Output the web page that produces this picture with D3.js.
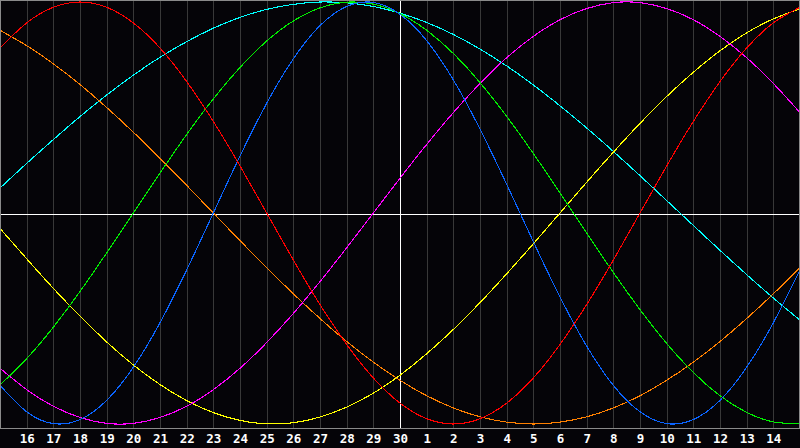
<!DOCTYPE html>
<html>
<head>
<meta charset="utf-8">
<script src="https://cdn.jsdelivr.net/npm/d3@7"></script>
<style>
  html, body { margin: 0; padding: 0; background: #050408; }
  svg { display: block; }
</style>
</head>
<body>
<svg id="chart" width="800" height="448"></svg>
<script>
// Day labels (index 0 = left edge, index 30 = right edge)
const dayLabels = ["15","16","17","18","19","20","21","22","23","24","25","26","27","28","29","30",
  "1","2","3","4","5","6","7","8","9","10","11","12","13","14","15"];
const todayIndex = 15;

// Cycle values per day (-1 .. 1)
const physical = [-0.817,-0.942,-0.998,-0.979,-0.888,-0.731,-0.520,-0.270,0,0.270,0.520,0.731,0.888,0.979,0.998,0.942,
  0.817,0.631,0.398,0.136,-0.136,-0.398,-0.631,-0.817,-0.942,-0.998,-0.979,-0.888,-0.731,-0.520,-0.270];
const emotional = [0.782,0.901,0.975,1,0.975,0.901,0.782,0.623,0.434,0.223,0,-0.223,-0.434,-0.623,-0.782,-0.901,
  -0.975,-1,-0.975,-0.901,-0.782,-0.623,-0.434,-0.223,0,0.223,0.434,0.623,0.782,0.901,0.975];
const intellectual = [-0.815,-0.690,-0.541,-0.372,-0.189,0,0.189,0.372,0.541,0.690,0.815,0.910,0.972,0.999,0.990,0.945,
  0.866,0.756,0.618,0.458,0.282,0.095,-0.095,-0.282,-0.458,-0.618,-0.756,-0.866,-0.945,-0.990,-0.999];
const intuitive = [-0.736,-0.837,-0.916,-0.969,-0.997,-0.997,-0.969,-0.916,-0.837,-0.736,-0.614,-0.476,-0.325,-0.165,0,0.165,
  0.325,0.476,0.614,0.736,0.837,0.916,0.969,0.997,0.997,0.969,0.916,0.837,0.736,0.614,0.476];
const aesthetic = [-0.073,-0.217,-0.357,-0.489,-0.611,-0.720,-0.813,-0.889,-0.946,-0.983,-0.999,-0.994,-0.967,-0.920,-0.854,-0.769,
  -0.667,-0.552,-0.425,-0.288,-0.146,0,0.146,0.288,0.425,0.552,0.667,0.769,0.854,0.920,0.967];
const awareness = [0.866,0.793,0.707,0.609,0.5,0.383,0.259,0.131,0,-0.131,-0.259,-0.383,-0.5,-0.609,-0.707,-0.793,
  -0.866,-0.924,-0.966,-0.991,-1,-0.991,-0.966,-0.924,-0.866,-0.793,-0.707,-0.609,-0.5,-0.383,-0.259];
const spiritual = [0.118,0.235,0.348,0.457,0.559,0.653,0.738,0.812,0.876,0.927,0.965,0.989,1.000,0.996,0.979,0.947,
  0.903,0.846,0.777,0.697,0.607,0.508,0.403,0.292,0.177,0.059,-0.059,-0.177,-0.292,-0.403,-0.508];

const seriesNames = ["spiritual","awareness","aesthetic","intuitive","intellectual","physical","emotional"];
const seriesValues = [spiritual, awareness, aesthetic, intuitive, intellectual, physical, emotional];
const seriesColors = ["#00ffff","#ff8000","#ffff00","#ff00ff","#00ee00","#0a64ff","#ff0000"];

const svg = d3.select("#chart");
const W = 800, plotBottom = 428;

const x = d3.scaleLinear().domain([0, dayLabels.length - 1]).range([0, W]);
const y = d3.scaleLinear().domain([-1, 1]).range([424, 2]);

svg.append("rect").attr("x",0).attr("y",0).attr("width",W).attr("height",448).attr("fill","#050408");

// vertical day grid
const gridIdx = d3.range(1, dayLabels.length - 1);
svg.append("g").selectAll("line").data(gridIdx).join("line")
  .attr("x1", d => Math.round(x(d)) + 0.5).attr("x2", d => Math.round(x(d)) + 0.5)
  .attr("y1", 0).attr("y2", plotBottom)
  .attr("stroke", "#383838").attr("stroke-width", 1)
  .attr("shape-rendering", "crispEdges");

// midline and today line
svg.append("line").attr("x1", 0).attr("x2", W)
  .attr("y1", Math.round(y(0)) + 1.5).attr("y2", Math.round(y(0)) + 1.5)
  .attr("stroke", "#ffffff").attr("stroke-width", 1).attr("shape-rendering","crispEdges");
svg.append("line").attr("x1", x(todayIndex) + 0.5).attr("x2", x(todayIndex) + 0.5)
  .attr("y1", 0).attr("y2", plotBottom)
  .attr("stroke", "#ffffff").attr("stroke-width", 1).attr("shape-rendering","crispEdges");

// curves
const line = d3.line()
  .x((d, i) => x(i))
  .y(d => y(d))
  .curve(d3.curveNatural);

svg.append("g").selectAll("path").data(seriesValues).join("path")
  .attr("d", d => line(d))
  .attr("fill", "none")
  .attr("stroke", (d, i) => seriesColors[i])
  .attr("stroke-width", 1.1)
  .attr("shape-rendering", "crispEdges");

// frame
svg.append("rect").attr("x", 0.5).attr("y", 0.5).attr("width", W - 1).attr("height", plotBottom)
  .attr("fill", "none").attr("stroke", "#8a8a8a").attr("stroke-width", 1)
  .attr("shape-rendering","crispEdges");

// bottom axis labels
const axis = d3.axisBottom(x)
  .tickValues(gridIdx)
  .tickFormat(i => dayLabels[i])
  .tickSize(0)
  .tickPadding(0);
const gAxis = svg.append("g").attr("transform", `translate(0,${plotBottom + 6.5})`).call(axis);
gAxis.select(".domain").remove();
gAxis.selectAll("text")
  .attr("fill", "#ffffff")
  .attr("font-family", "'DejaVu Sans Mono', monospace")
  .attr("font-weight", "bold")
  .attr("font-size", 12.5);
</script>
</body>
</html>
